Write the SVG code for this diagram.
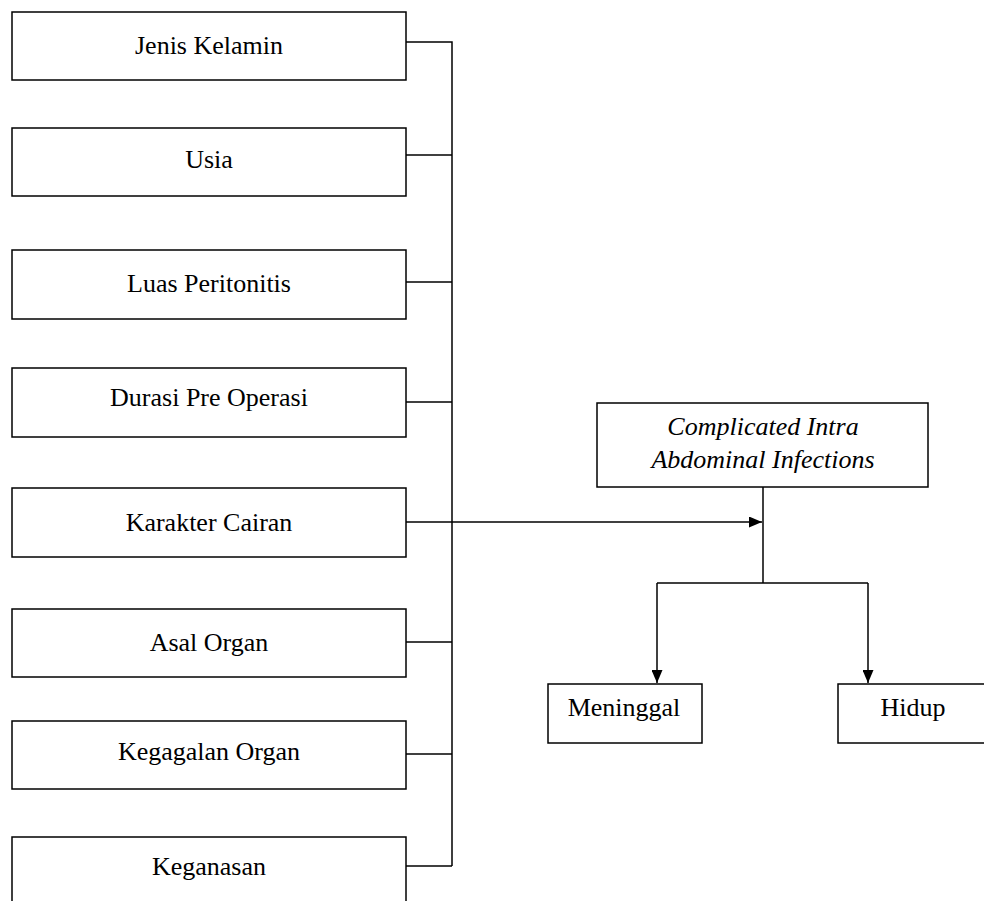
<svg xmlns="http://www.w3.org/2000/svg" width="984" height="901" viewBox="0 0 984 901">
<style>
.box{fill:#fff;stroke:#000;stroke-width:1.5}
.t{font-family:"Liberation Serif","Times New Roman",serif;font-size:26px;fill:#000;text-anchor:middle}
.it{font-style:italic}
.ln{fill:none;stroke:#000;stroke-width:1.5}
</style>
<defs>
<marker id="ah" viewBox="0 0 13 11" refX="13" refY="5.5" markerWidth="13" markerHeight="11" markerUnits="userSpaceOnUse" orient="auto">
<path d="M0,0 L13,5.5 L0,11 z" fill="#000"/>
</marker>
</defs>
<rect width="984" height="901" fill="#fff"/>
<g id="connectors">
<path class="ln" d="M406,42 H452 V866"/>
<path class="ln" d="M406,155 H452"/>
<path class="ln" d="M406,282 H452"/>
<path class="ln" d="M406,402 H452"/>
<path class="ln" d="M406,642 H452"/>
<path class="ln" d="M406,754 H452"/>
<path class="ln" d="M406,866 H452"/>
<path class="ln" d="M406,522 H762" marker-end="url(#ah)"/>
<path class="ln" d="M763,487 V583"/>
<path class="ln" d="M657,583 H868"/>
<path class="ln" d="M657,583 V683" marker-end="url(#ah)"/>
<path class="ln" d="M868,583 V683" marker-end="url(#ah)"/>
</g>
<g id="n1"><rect class="box" x="12" y="12" width="394" height="68"/><text class="t" x="209" y="54">Jenis Kelamin</text></g>
<g id="n2"><rect class="box" x="12" y="128" width="394" height="68"/><text class="t" x="209" y="168">Usia</text></g>
<g id="n3"><rect class="box" x="12" y="250" width="394" height="69"/><text class="t" x="209" y="292">Luas Peritonitis</text></g>
<g id="n4"><rect class="box" x="12" y="368" width="394" height="69"/><text class="t" x="209" y="406">Durasi Pre Operasi</text></g>
<g id="n5"><rect class="box" x="12" y="488" width="394" height="69"/><text class="t" x="209" y="531">Karakter Cairan</text></g>
<g id="n6"><rect class="box" x="12" y="609" width="394" height="68"/><text class="t" x="209" y="651">Asal Organ</text></g>
<g id="n7"><rect class="box" x="12" y="721" width="394" height="68"/><text class="t" x="209" y="760">Kegagalan Organ</text></g>
<g id="n8"><rect class="box" x="12" y="837" width="394" height="80"/><text class="t" x="209" y="875">Keganasan</text></g>
<g id="ciai"><rect class="box" x="597" y="403" width="331" height="84"/><text class="t it" x="763" y="435">Complicated Intra</text><text class="t it" x="763" y="468">Abdominal Infections</text></g>
<g id="meninggal"><rect class="box" x="548" y="684" width="154" height="59"/><text class="t" x="624" y="716">Meninggal</text></g>
<g id="hidup"><rect class="box" x="838" y="684" width="152" height="59"/><text class="t" x="913" y="716">Hidup</text></g>
</svg>
